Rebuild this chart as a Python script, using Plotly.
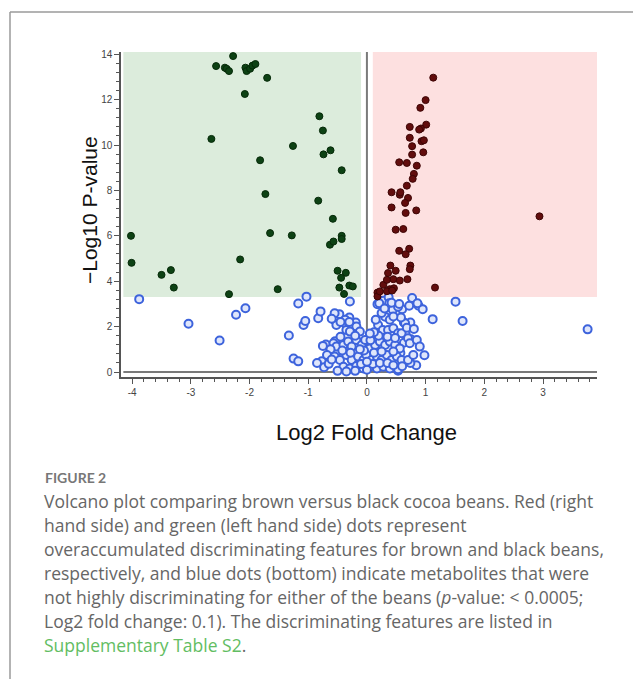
import plotly.graph_objects as go

# ---------------- data ----------------
green_x = [-2.28, -2.57, -2.42, -2.39, -2.35, -2.07, -2.05, -1.99, -1.95, -1.90, -2.08, -1.70,
           -2.65, -1.82, -1.73, -1.65, -2.16, -2.35, -1.52, -1.26, -1.28, -0.81, -0.75, -0.74,
           -0.62, -0.43, -0.83, -0.58, -0.63, -0.57, -0.43, -0.43, -4.02, -4.01, -3.50, -3.34,
           -3.29, -0.50, -0.36, -0.44, -0.47, -0.30, -0.24, -0.39]
green_y = [13.92, 13.48, 13.41, 13.36, 13.26, 13.41, 13.26, 13.36, 13.50, 13.57, 12.25, 12.96,
           10.27, 9.33, 7.84, 6.12, 4.96, 3.43, 3.65, 9.96, 6.02, 11.27, 10.64, 9.59,
           9.77, 8.89, 7.55, 6.75, 5.61, 5.75, 6.00, 5.86, 6.00, 4.81, 4.28, 4.49,
           3.72, 4.46, 4.37, 4.15, 3.72, 3.81, 3.77, 3.44]

red_x = [1.13, 1.00, 0.91, 1.01, 0.92, 0.89, 0.73, 0.73, 0.93, 0.97, 0.77, 0.96, 0.77, 0.55,
         0.68, 0.85, 0.80, 0.78, 0.68, 0.42, 0.56, 0.57, 0.70, 0.65, 0.42, 0.84, 0.66, 0.49,
         0.62, 0.72, 0.55, 0.66, 0.74, 0.73, 0.40, 0.36, 0.49, 0.45, 0.56, 0.69, 0.28, 0.34,
         0.39, 0.46, 0.18, 0.18, 1.16, 2.94, 0.34, 0.43, 0.22]
red_y = [12.97, 11.98, 11.64, 10.90, 10.73, 10.68, 10.80, 10.32, 10.17, 10.21, 9.95, 9.68, 9.58, 9.24,
         9.21, 9.09, 8.73, 8.51, 8.21, 7.92, 7.81, 7.92, 7.67, 7.45, 7.25, 7.12, 7.01, 6.27,
         6.30, 5.43, 5.34, 5.19, 4.69, 4.53, 4.69, 4.36, 4.46, 4.09, 4.03, 4.09, 3.84, 4.06,
         3.65, 3.69, 3.50, 3.33, 3.72, 6.86, 3.56, 3.59, 3.55]

blue_x = [-3.88, -3.04, -2.51, -2.23, -2.07, -1.33, -1.25, -1.17, -1.17, -1.03, -1.08, -1.05,
          -0.83, -0.79, -0.70, -0.77, -0.73, -0.65, -0.55, -0.51, -0.47, -0.54, -0.51, -0.29,
          -0.36, -0.32, -0.25, -0.19, -0.30,
          0.18, 0.28, 0.37, 0.40, 0.51, 0.60, 0.77, 0.72, 0.88, 0.95, 0.63, 0.74, 1.12, 1.51,
          1.63, 3.76, 0.98, 0.84, 0.74, 0.53, 0.75, 0.66, 0.63, 0.57,
          0.21, 0.38, 0.44, 0.31, 0.39, 0.53, 0.86, -0.55, -0.52, -0.37, -0.18, -0.12, -0.35,
          -0.29, 0.19, 0.27, 0.36, 0.45, 0.53, 0.65, 0.59, 0.70, 0.73, -0.57, -0.52, -0.40,
          -0.32, -0.26, -0.18, -0.09, -0.03, 0.05, 0.14, 0.22, 0.31, 0.39, 0.48, 0.56, 0.85,
          0.90, -0.55, -0.46, -0.35, -0.26, -0.15, -0.06, -0.01, 0.08, 0.17, 0.25, 0.34, 0.42,
          0.51, 0.59, 0.70, 0.79, -0.40, -0.29, -0.18, -0.06, 0.05, 0.17, 0.28, 0.39, 0.53,
          -0.75, -0.62, -0.68, -0.45, -0.60, -0.85, -0.50, -0.35, -0.20, 0.00, 0.10, 0.12, 0.25,
          0.45, 0.20, 0.12, 0.35, 0.48, 0.06, -0.05, -0.12, 0.05, 0.15, 0.25, 0.30, -0.20, -0.10,
          0.00, 0.22, 0.35, 0.60, 0.45, -0.28, -0.42, -0.60, -0.45, -0.30, 0.58, 0.45, 0.68,
          0.80, 0.42, 0.55]
blue_y = [3.21, 2.13, 1.39, 2.52, 2.81, 1.61, 0.59, 0.47, 3.02, 3.32, 2.07, 2.25,
          2.37, 2.67, 1.21, 0.47, 0.21, 0.36, 2.28, 2.47, 2.55, 1.36, 0.92, 3.11,
          2.10, 1.88, 2.10, 2.18, 2.40,
          2.99, 3.14, 3.29, 2.87, 2.62, 2.77, 3.26, 2.92, 2.92, 2.77, 2.18, 2.18, 2.33, 3.10,
          2.25, 1.88, 0.74, 0.30, 0.40, 0.06, 1.44, 1.66, 1.29, 0.84,
          3.03, 3.03, 2.74, 2.44, 2.30, 2.88, 3.03, 2.59, 2.07, 2.30, 2.00, 1.78, 1.85,
          1.78, 2.07, 1.85, 1.85, 1.93, 1.71, 2.15, 1.71, 1.49, 1.27, 1.27, 1.12, 1.19,
          1.34, 1.12, 1.41, 1.19, 1.41, 1.04, 1.19, 1.34, 1.19, 1.34, 1.19, 1.04, 1.41,
          1.12, 0.68, 0.53, 0.75, 0.53, 0.68, 0.53, 0.75, 0.53, 0.68, 0.53, 0.75, 0.53,
          0.68, 0.53, 0.53, 0.75, 0.23, 0.16, 0.26, 0.16, 0.23, 0.16, 0.23, 0.16, 0.12,
          1.15, 1.00, 0.75, 1.55, 0.55, 0.40, 0.05, 0.02, 0.05, 0.10, 0.35, 0.85, 0.90,
          0.90, 1.60, 1.75, 1.55, 1.50, 1.40, 0.95, 1.00, 1.70, 2.30, 2.60, 2.80, 1.60, 0.35,
          0.45, 0.40, 0.40, 0.25, 0.30, 0.85, 0.95, 2.35, 2.20, 2.20, 2.40, 2.45, 1.95,
          1.90, 3.05, 3.00]

x_ticks = [-4, -3, -2, -1, 0, 1, 2, 3]
x_tick_labels = ["-4", "-3", "-2", "-1", "0", "1", "2", "3"]
y_ticks = [0, 2, 4, 6, 8, 10, 12, 14]
y_tick_labels = ["0", "2", "4", "6", "8", "10", "12", "14"]

p_threshold = 3.3     # -log10(0.0005)
fc_threshold = 0.1

caption_lines = [
    "Volcano plot comparing brown versus black cocoa beans. Red (right",
    "hand side) and green (left hand side) dots represent",
    "overaccumulated discriminating features for brown and black beans,",
    "respectively, and blue dots (bottom) indicate metabolites that were",
    "not highly discriminating for either of the beans (<i>p</i>-value: < 0.0005;",
    "Log2 fold change: 0.1). The discriminating features are listed in",
    "<span style='color:#62bd62'>Supplementary Table S2</span>.",
]

# ---------------- layout geometry ----------------
OFF = 8                       # page body margin
W, H = 633, 671
L, T = 121 - OFF, 52 - OFF
R = W - (597 - OFF)
B = H - (377 - OFF)
PW, PH = W - L - R, H - T - B
XR = [-4.19, 3.92]
YR = [-0.22, 14.1]


def px(xp):
    """reference pixel x -> paper coordinate"""
    return (xp - OFF - L) / PW


def py(yp):
    """reference pixel y -> paper coordinate"""
    return (H - B - (yp - OFF)) / PH


fig = go.Figure()

fig.add_trace(go.Scatter(
    x=blue_x, y=blue_y, mode="markers",
    marker=dict(size=8, color="#dfe6fb", line=dict(color="#3d63dc", width=2)),
    hoverinfo="skip", showlegend=False))
fig.add_trace(go.Scatter(
    x=green_x, y=green_y, mode="markers",
    marker=dict(size=7, color="#0d4214", line=dict(color="#062a09", width=1)),
    hoverinfo="skip", showlegend=False))
fig.add_trace(go.Scatter(
    x=red_x, y=red_y, mode="markers",
    marker=dict(size=7, color="#620d0d", line=dict(color="#3d0505", width=1)),
    hoverinfo="skip", showlegend=False))

shapes = [
    dict(type="rect", xref="x", yref="y", x0=-4.15, x1=-fc_threshold, y0=p_threshold, y1=YR[1],
         fillcolor="#dcecdc", line=dict(width=0), layer="below"),
    dict(type="rect", xref="x", yref="y", x0=fc_threshold, x1=XR[1], y0=p_threshold, y1=YR[1],
         fillcolor="#fde0e0", line=dict(width=0), layer="below"),
    dict(type="line", xref="x", yref="y", x0=-4.15, x1=XR[1], y0=0, y1=0,
         line=dict(color="#7a7a7a", width=2), layer="below"),
    dict(type="line", xref="x", yref="y", x0=0, x1=0, y0=YR[0], y1=YR[1],
         line=dict(color="#7a7a7a", width=2), layer="below"),
    # figure frame
    dict(type="line", xref="paper", yref="paper", x0=px(10), x1=px(660), y0=py(12), y1=py(12),
         line=dict(color="#9a9a9a", width=1.5)),
    dict(type="line", xref="paper", yref="paper", x0=px(10), x1=px(10), y0=py(12), y1=py(700),
         line=dict(color="#9a9a9a", width=1.5)),
]

annotations = [
    dict(text="\u2212Log10 P-value", xref="paper", yref="paper", x=px(89), y=py(210),
         textangle=-90, showarrow=False, xanchor="center", yanchor="middle",
         font=dict(family="Liberation Sans, Arial", size=21, color="#111")),
    dict(text="Log2 Fold Change", xref="paper", yref="paper", x=px(366), y=py(432),
         showarrow=False, xanchor="center", yanchor="middle",
         font=dict(family="Liberation Sans, Arial", size=22, color="#111")),
    dict(text="<b>FIGURE 2</b>", xref="paper", yref="paper", x=px(43), y=py(477),
         showarrow=False, xanchor="left", yanchor="middle",
         font=dict(family="Lato", size=14, color="#777")),
]
for i, line in enumerate(caption_lines):
    annotations.append(dict(text=line, xref="paper", yref="paper", x=px(42), y=py(501 + 24 * i),
                            showarrow=False, xanchor="left", yanchor="middle", align="left",
                            font=dict(family="Open Sans", size=17.5, color="#666")))

axis_common = dict(
    showgrid=False, zeroline=False, showline=True, linecolor="#555", linewidth=1.5,
    ticks="outside", ticklen=5, tickcolor="#555", tickwidth=1,
    tickfont=dict(family="Liberation Sans, Arial", size=10, color="#444"),
)

fig.update_layout(
    width=W, height=H,
    margin=dict(l=L, r=R, t=T, b=B),
    paper_bgcolor="white", plot_bgcolor="white",
    shapes=shapes, annotations=annotations,
    xaxis=dict(range=XR, tickvals=x_ticks, ticktext=x_tick_labels,
               minor=dict(ticks="outside", ticklen=3, dtick=0.2, tickcolor="#555"),
               **axis_common),
    yaxis=dict(range=YR, tickvals=y_ticks, ticktext=y_tick_labels,
               minor=dict(ticks="outside", ticklen=3, dtick=0.4, tickcolor="#555"),
               **axis_common),
)

fig.write_html("out.html")
